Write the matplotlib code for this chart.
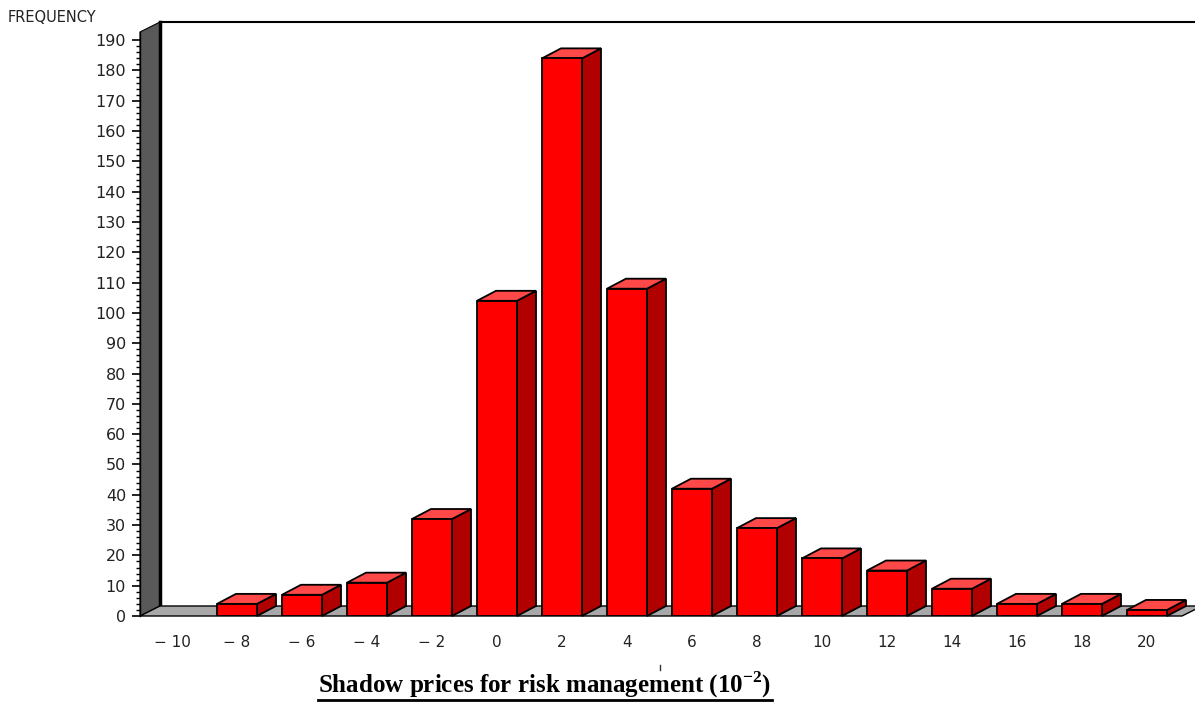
import matplotlib

matplotlib.use("agg")
from matplotlib import pyplot as plt
from matplotlib.patches import Polygon
from matplotlib.lines import Line2D
import numpy as np

# histogram of shadow prices (bins of width 2, in units of 10^-2)
bins = [-10, -8, -6, -4, -2, 0, 2, 4, 6, 8, 10, 12, 14, 16, 18, 20]
freq = [0, 4, 7, 11, 32, 104, 184, 108, 42, 29, 19, 15, 9, 4, 4, 2]
yticks = list(range(0, 191, 10))

W, H = 1195, 726
plt.rcParams["mathtext.fontset"] = "custom"
plt.rcParams["mathtext.rm"] = "Liberation Serif"
plt.rcParams["mathtext.bf"] = "Liberation Serif:bold"

fig = plt.figure(figsize=(W / 100, H / 100), dpi=100)
# axes: left spine = front edge of the side wall, bottom = front edge of floor
ax = fig.add_axes([140 / W, 110 / H, (W - 140) / W, (616 - 32) / H])
px_x = 65.0  # pixels per bin
ax.set_xlim(-32 / px_x, (W - 172) / px_x)
ax.set_ylim(0, 192.7)
px_y = (616 - 32) / 192.7

dx, dy = 19 / px_x, 10 / px_y       # bar depth
dxw, dyw = 20 / px_x, 10 / px_y     # wall/floor depth
hw = 20 / px_x                      # half bar width
x0 = ax.get_xlim()[0]
ytop = ax.get_ylim()[1]
x_floor_end = (1182 - 172) / px_x

# side wall
ax.add_patch(Polygon([(x0, 0), (x0, ytop), (x0 + dxw, ytop + dyw), (x0 + dxw, dyw)],
                     closed=True, fc="#595959", ec="black", lw=0.8, clip_on=False, zorder=1))
ax.add_line(Line2D([x0 + dxw, x0 + dxw], [dyw, ytop + dyw], color="black", lw=2.5,
                   clip_on=False, zorder=2))
ax.add_line(Line2D([x0 + dxw, ax.get_xlim()[1]], [ytop + dyw, ytop + dyw], color="black",
                   lw=1.5, clip_on=False, zorder=2))
# floor
ax.add_patch(Polygon([(x0, 0), (x_floor_end, 0), (x_floor_end + dxw, dyw), (x0 + dxw, dyw)],
                     closed=True, fc="#a8a8a8", ec="black", lw=1, clip_on=False, zorder=2))

x = np.arange(len(bins))
for xi, v in zip(x, freq):
    if v <= 0:
        continue
    side = [(xi + hw, 0), (xi + hw + dx, dy), (xi + hw + dx, v + dy), (xi + hw, v)]
    top = [(xi - hw, v), (xi + hw, v), (xi + hw + dx, v + dy), (xi - hw + dx, v + dy)]
    ax.add_patch(Polygon(side, closed=True, fc="#b00000", ec="black", lw=1.3,
                         clip_on=False, zorder=3))
    ax.add_patch(Polygon(top, closed=True, fc="#ff4848", ec="black", lw=1.3,
                         clip_on=False, zorder=3))
    ax.bar(xi, v, width=2 * hw, color="#ff0000", edgecolor="black", lw=1.3, zorder=4)

for s in ["top", "right", "bottom"]:
    ax.spines[s].set_visible(False)
ax.spines["left"].set_linewidth(1)
ax.spines["left"].set_zorder(5)
ax.patch.set_visible(False)

ax.set_yticks(yticks)
ax.set_yticks(np.arange(0, 191, 2), minor=True)
ax.tick_params(axis="y", which="major", length=6, width=1.2, pad=4, labelsize=11.5,
               labelcolor="#222222")
ax.tick_params(axis="y", which="minor", length=3, width=1)
ax.set_xticks(x)
ax.set_xticklabels([str(b).replace("-", "\u2212 ") for b in bins])
ax.tick_params(axis="x", length=0, pad=14, labelsize=11, labelcolor="#222222")

fig.text(8 / W, 1 - 17 / H, "FREQUENCY", fontsize=10.5, ha="left", va="center",
         color="#222222")
# small stray tick under the axis, as in the original
fig.add_artist(Line2D([660 / W, 660 / W], [1 - 665 / H, 1 - 670 / H], color="#333333", lw=1))

title = fig.text(545 / W, (H - 693) / H,
                 r"Shadow prices for risk management (10$^{\mathbf{-2}}$)",
                 fontsize=18, fontweight="bold", family="Liberation Serif",
                 ha="center", va="baseline")
fig.canvas.draw()
bb = title.get_window_extent()
yl = (H - 700) / H
fig.add_artist(Line2D([bb.x0 / W, bb.x1 / W], [yl, yl], color="black", lw=2))

fig.savefig("out.png", dpi=100)
